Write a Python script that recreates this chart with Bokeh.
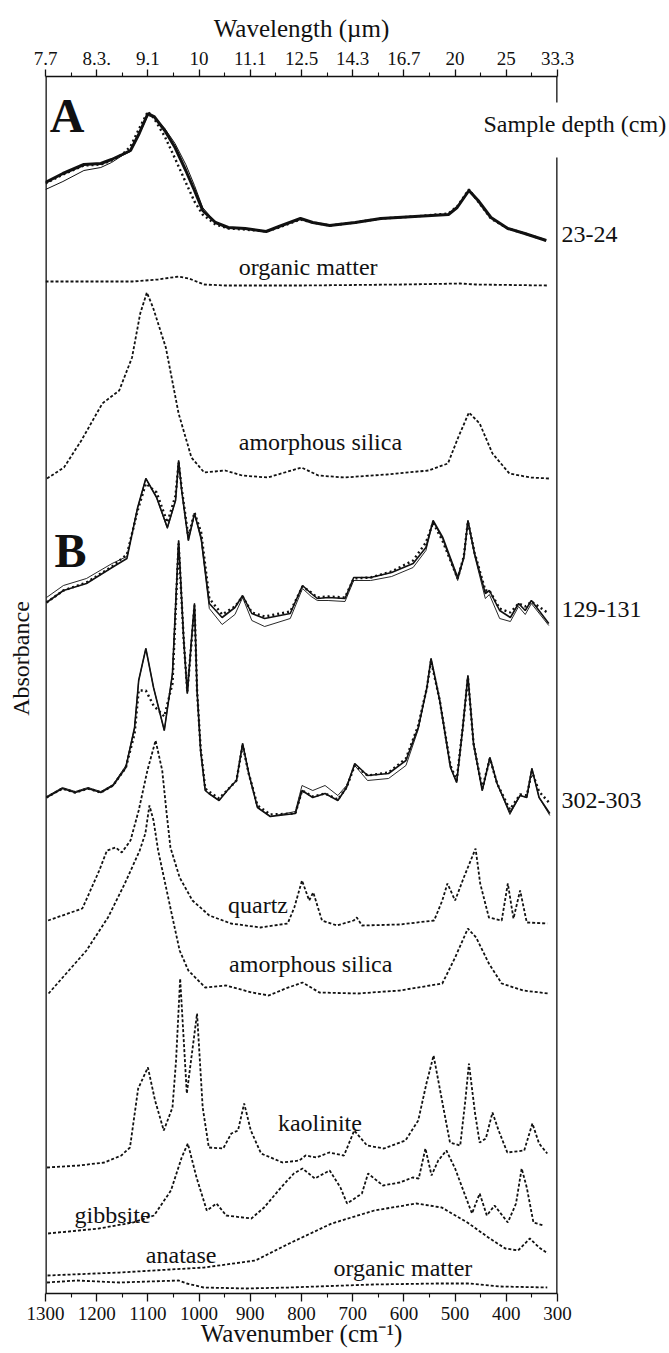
import math
from bokeh.plotting import figure
from bokeh.models import Range1d, LinearAxis, FixedTicker, CustomJSTickFormatter, Label
from bokeh.embed import file_html
from bokeh.resources import INLINE

FONT = "Liberation Serif"
INK = "#111111"

# ---------------- axes ----------------
wn_ticks = [1300, 1200, 1100, 1000, 900, 800, 700, 600, 500, 400, 300]
wn_minor = [1250, 1150, 1050, 950, 850, 750, 650, 550, 450, 350]
wl_labels = ["7.7", "8.3.", "9.1", "10", "11.1", "12.5", "14.3", "16.7", "20", "25", "33.3"]

# right-hand captions ("Sample" | "depth (cm)" straddles the frame) and depth labels
depth_labels = ["depth (cm)", "23-24", "129-131", "302-303"]
depth_pos = [11.70, 10.60, 6.85, 4.94]

# ---------------- data (wavenumber cm-1, stacked absorbance a.u.) ----------------
# A: sample 23-24 cm, measured (bold), replicate (thin), fit (dotted)
a_meas_wn = [1300, 1266, 1225, 1192, 1171, 1150, 1134, 1117, 1100, 1088, 1067, 1047, 1026, 1009, 993, 968, 943, 910, 869, 844, 802, 778, 745, 695, 645, 579, 513, 496, 473, 455, 430, 397, 364, 322]
a_meas_ab = [11.11, 11.20, 11.29, 11.30, 11.34, 11.39, 11.43, 11.60, 11.80, 11.77, 11.63, 11.46, 11.23, 11.03, 10.83, 10.71, 10.66, 10.65, 10.62, 10.67, 10.75, 10.71, 10.68, 10.71, 10.75, 10.77, 10.79, 10.86, 11.03, 10.93, 10.76, 10.65, 10.60, 10.53]
a_thin_wn = [1300, 1266, 1225, 1192, 1171, 1150, 1134, 1117, 1100, 1088, 1067, 1047, 1026, 1009, 993, 968, 943, 910, 869, 844, 802, 778, 745, 695, 645, 579, 513, 496, 473, 455, 430, 397, 364, 322]
a_thin_ab = [11.04, 11.12, 11.23, 11.26, 11.31, 11.38, 11.42, 11.59, 11.78, 11.76, 11.65, 11.50, 11.29, 11.08, 10.86, 10.71, 10.66, 10.65, 10.62, 10.67, 10.75, 10.71, 10.68, 10.71, 10.75, 10.77, 10.79, 10.86, 11.03, 10.93, 10.76, 10.65, 10.60, 10.53]
a_fit_wn = [1300, 1266, 1225, 1192, 1171, 1150, 1134, 1117, 1100, 1088, 1067, 1047, 1026, 1009, 993, 968, 943, 910, 869, 844, 802, 778, 745, 695, 645, 579, 513, 496, 473, 455, 430, 397, 364, 322]
a_fit_ab = [11.10, 11.19, 11.28, 11.29, 11.33, 11.39, 11.47, 11.65, 11.82, 11.75, 11.57, 11.35, 11.11, 10.92, 10.79, 10.69, 10.65, 10.64, 10.62, 10.66, 10.74, 10.71, 10.68, 10.71, 10.75, 10.77, 10.80, 10.87, 11.04, 10.92, 10.75, 10.65, 10.60, 10.53]

om1_wn = [1300, 1200, 1130, 1080, 1040, 1020, 990, 950, 800, 600, 490, 460, 320]
om1_ab = [10.12, 10.12, 10.12, 10.14, 10.17, 10.15, 10.09, 10.08, 10.08, 10.09, 10.10, 10.09, 10.08]

as1_wn = [1297, 1264, 1230, 1189, 1156, 1131, 1115, 1102, 1090, 1065, 1040, 1015, 990, 949, 916, 866, 833, 800, 767, 717, 634, 552, 514, 494, 473, 452, 427, 394, 353, 316]
as1_ab = [8.15, 8.26, 8.53, 8.90, 9.03, 9.36, 9.80, 10.01, 9.86, 9.46, 8.80, 8.36, 8.21, 8.23, 8.18, 8.16, 8.21, 8.26, 8.18, 8.16, 8.19, 8.23, 8.30, 8.56, 8.81, 8.70, 8.40, 8.20, 8.16, 8.15]

# B: sample 129-131 cm
b1_wn = [1298, 1265, 1220, 1170, 1141, 1120, 1104, 1083, 1062, 1046, 1040, 1034, 1021, 1009, 996, 980, 955, 930, 915, 897, 872, 822, 798, 781, 769, 748, 715, 698, 665, 624, 582, 557, 543, 524, 495, 483, 475, 462, 441, 433, 413, 392, 376, 363, 351, 317]
b1_meas = [6.91, 7.03, 7.10, 7.26, 7.35, 7.86, 8.15, 7.96, 7.66, 7.93, 8.33, 8.03, 7.53, 7.80, 7.56, 6.90, 6.76, 6.86, 6.98, 6.80, 6.75, 6.80, 7.08, 7.00, 6.95, 6.96, 6.95, 7.16, 7.16, 7.21, 7.30, 7.46, 7.73, 7.56, 7.16, 7.36, 7.73, 7.40, 7.00, 7.03, 6.83, 6.76, 6.90, 6.83, 6.93, 6.70]
b1_thin = [6.96, 7.08, 7.15, 7.30, 7.37, 7.86, 8.15, 7.96, 7.65, 7.93, 8.33, 8.03, 7.53, 7.80, 7.53, 6.85, 6.69, 6.79, 6.96, 6.73, 6.67, 6.75, 7.05, 6.97, 6.93, 6.93, 6.92, 7.13, 7.13, 7.17, 7.26, 7.43, 7.72, 7.54, 7.13, 7.35, 7.73, 7.38, 6.95, 6.99, 6.75, 6.72, 6.87, 6.79, 6.90, 6.68]
b1_fit = [6.91, 7.03, 7.11, 7.27, 7.39, 7.83, 8.10, 8.01, 7.71, 7.98, 8.31, 8.05, 7.57, 7.81, 7.61, 6.95, 6.79, 6.87, 6.97, 6.81, 6.77, 6.82, 7.07, 7.01, 6.96, 6.97, 6.96, 7.15, 7.16, 7.22, 7.33, 7.51, 7.71, 7.52, 7.15, 7.37, 7.72, 7.41, 7.03, 7.03, 6.85, 6.81, 6.90, 6.87, 6.92, 6.80]

# B: sample 302-303 cm
b2_wn = [1298, 1267, 1242, 1217, 1192, 1168, 1143, 1126, 1118, 1104, 1089, 1068, 1052, 1040, 1030, 1023, 1015, 1009, 1004, 997, 988, 981, 961, 940, 927, 915, 903, 886, 861, 812, 799, 778, 754, 729, 712, 696, 671, 630, 596, 572, 555, 547, 530, 509, 497, 485, 475, 464, 447, 432, 418, 393, 373, 360, 350, 336, 315]
b2_meas = [4.96, 5.05, 5.01, 5.05, 5.01, 5.08, 5.26, 5.66, 6.13, 6.45, 6.06, 5.63, 6.20, 7.53, 6.53, 6.00, 6.53, 6.90, 6.03, 5.43, 5.03, 5.00, 4.93, 5.06, 5.13, 5.50, 5.20, 4.86, 4.77, 4.80, 5.03, 4.96, 5.00, 4.93, 5.06, 5.30, 5.18, 5.20, 5.33, 5.66, 6.06, 6.35, 5.93, 5.26, 5.11, 5.66, 6.18, 5.50, 5.03, 5.36, 5.10, 4.81, 4.98, 4.96, 5.25, 4.96, 4.80]
b2_thin = [4.97, 5.06, 5.02, 5.06, 5.02, 5.09, 5.28, 5.66, 6.13, 6.45, 6.06, 5.63, 6.20, 7.53, 6.53, 6.00, 6.53, 6.90, 6.03, 5.43, 5.03, 5.00, 4.93, 5.06, 5.13, 5.50, 5.20, 4.86, 4.77, 4.82, 5.08, 5.03, 5.08, 4.98, 5.08, 5.28, 5.13, 5.15, 5.28, 5.64, 6.06, 6.35, 5.93, 5.26, 5.11, 5.66, 6.18, 5.50, 5.03, 5.36, 5.10, 4.79, 4.98, 4.96, 5.25, 4.96, 4.78]
b2_fit = [4.96, 5.05, 5.01, 5.05, 5.01, 5.08, 5.26, 5.60, 6.03, 6.03, 5.88, 5.77, 6.10, 7.50, 6.53, 6.02, 6.50, 6.88, 6.03, 5.45, 5.05, 5.02, 4.95, 5.06, 5.13, 5.48, 5.20, 4.88, 4.79, 4.80, 5.03, 4.97, 5.00, 4.94, 5.06, 5.28, 5.18, 5.21, 5.35, 5.68, 6.06, 6.33, 5.93, 5.28, 5.13, 5.66, 6.16, 5.50, 5.05, 5.35, 5.10, 4.84, 4.99, 4.98, 5.22, 5.02, 4.90]

qz_wn = [1295, 1228, 1195, 1180, 1163, 1151, 1134, 1118, 1101, 1085, 1072, 1064, 1056, 1038, 1013, 980, 938, 880, 827, 814, 799, 785, 777, 760, 731, 698, 692, 682, 608, 541, 525, 515, 500, 483, 460, 451, 434, 409, 397, 386, 373, 360, 320]
qz_ab = [3.73, 3.85, 4.23, 4.43, 4.46, 4.41, 4.53, 4.83, 5.23, 5.53, 5.23, 4.83, 4.46, 4.16, 3.93, 3.78, 3.70, 3.66, 3.70, 3.86, 4.13, 3.93, 4.01, 3.73, 3.68, 3.73, 3.76, 3.68, 3.69, 3.73, 3.93, 4.10, 3.93, 4.16, 4.45, 4.10, 3.76, 3.73, 4.10, 3.75, 4.03, 3.71, 3.70]

as2_wn = [1294, 1220, 1178, 1145, 1116, 1105, 1097, 1089, 1080, 1052, 1038, 1021, 988, 947, 897, 864, 831, 798, 765, 690, 608, 525, 500, 475, 459, 434, 409, 367, 318]
as2_ab = [3.00, 3.43, 3.76, 4.10, 4.43, 4.60, 4.88, 4.73, 4.43, 3.76, 3.43, 3.23, 3.06, 3.08, 3.01, 2.98, 3.05, 3.11, 3.01, 3.00, 3.03, 3.10, 3.36, 3.65, 3.56, 3.30, 3.10, 3.03, 3.00]

ka_wn = [1297, 1235, 1185, 1152, 1135, 1119, 1100, 1086, 1069, 1052, 1045, 1037, 1024, 1004, 993, 981, 953, 937, 924, 912, 899, 879, 837, 804, 792, 771, 746, 717, 697, 672, 639, 597, 572, 556, 542, 523, 510, 490, 480, 473, 461, 452, 440, 427, 415, 398, 365, 349, 336, 320]
ka_ab = [1.26, 1.28, 1.31, 1.38, 1.46, 2.05, 2.26, 1.93, 1.63, 1.86, 2.33, 3.15, 2.00, 2.80, 1.86, 1.46, 1.45, 1.60, 1.63, 1.90, 1.63, 1.40, 1.31, 1.33, 1.38, 1.36, 1.41, 1.38, 1.63, 1.48, 1.45, 1.53, 1.73, 2.10, 2.38, 1.86, 1.51, 1.48, 1.93, 2.30, 1.80, 1.51, 1.55, 1.81, 1.63, 1.41, 1.43, 1.70, 1.50, 1.40]

gb_wn = [1295, 1196, 1129, 1088, 1055, 1034, 1022, 1005, 985, 966, 947, 898, 873, 840, 815, 798, 774, 745, 724, 711, 682, 670, 658, 641, 608, 583, 571, 558, 546, 533, 517, 500, 484, 467, 452, 438, 423, 397, 381, 370, 360, 347, 327]
gb_ab = [0.60, 0.65, 0.71, 0.78, 1.03, 1.36, 1.50, 1.16, 0.83, 0.90, 0.78, 0.75, 0.86, 1.06, 1.20, 1.25, 1.15, 1.23, 1.06, 0.90, 1.00, 1.20, 1.15, 1.08, 1.11, 1.16, 1.15, 1.45, 1.18, 1.33, 1.43, 1.25, 1.03, 0.80, 1.00, 0.78, 0.88, 0.71, 0.90, 1.25, 1.06, 0.71, 0.68]

an_wn = [1296, 1155, 990, 890, 824, 741, 658, 576, 526, 476, 435, 402, 377, 354, 336, 319]
an_ab = [0.18, 0.21, 0.26, 0.33, 0.50, 0.70, 0.83, 0.90, 0.86, 0.71, 0.56, 0.45, 0.43, 0.55, 0.46, 0.40]

om2_wn = [1297, 1239, 1156, 1040, 1024, 991, 908, 825, 660, 536, 470, 412, 320]
om2_ab = [0.11, 0.13, 0.11, 0.13, 0.10, 0.06, 0.05, 0.06, 0.09, 0.10, 0.10, 0.07, 0.06]

# ---------------- figure ----------------
Y_TOP = 12.17
p = figure(width=669, height=1353, x_range=Range1d(1300, 300), y_range=Range1d(0, Y_TOP),
           output_backend="svg", toolbar_location=None,
           min_border_left=45, min_border_right=110, min_border_top=76, min_border_bottom=60,
           background_fill_color="white", border_fill_color="white")
p.outline_line_color = None
p.grid.visible = False


def style_axis(ax, tick_out):
    ax.ticker = FixedTicker(ticks=wn_ticks, minor_ticks=wn_minor)
    ax.axis_line_color = INK
    ax.axis_line_width = 1.3
    ax.major_tick_line_color = INK
    ax.major_tick_line_width = 1.3
    ax.minor_tick_line_color = INK
    ax.minor_tick_line_width = 1.1
    ax.major_tick_in = 0
    ax.major_tick_out = tick_out
    ax.minor_tick_in = 0
    ax.minor_tick_out = 4
    ax.major_label_text_font = FONT
    ax.major_label_text_font_size = "19px"
    ax.major_label_text_color = INK
    ax.axis_label_text_font = FONT
    ax.axis_label_text_font_style = "normal"
    ax.axis_label_text_font_size = "25px"
    ax.axis_label_text_color = INK


bottom = p.xaxis[0]
style_axis(bottom, 8)
bottom.major_label_standoff = 5
bottom.axis_label = "Wavenumber (cm\u207b\u00b9)"
bottom.axis_label_standoff = -3

top = LinearAxis(formatter=CustomJSTickFormatter(
    args=dict(t=wn_ticks, l=wl_labels),
    code="const i = t.indexOf(tick); return i < 0 ? '' : l[i];"))
style_axis(top, 7)
top.major_label_standoff = 5
top.axis_label = "Wavelength (\u00b5m)"
top.axis_label_standoff = 7
p.add_layout(top, "above")

# left axis: only the rotated 'Absorbance' caption
left = p.yaxis[0]
left.ticker = FixedTicker(ticks=[6.35], minor_ticks=[])
left.formatter = CustomJSTickFormatter(code="return 'Absorbance';")
left.major_label_orientation = "parallel"
left.major_label_text_font = FONT
left.major_label_text_font_size = "24px"
left.major_label_text_color = INK
left.major_label_standoff = 12
left.major_tick_out = 0
left.major_tick_in = 0
left.minor_tick_out = 0
left.axis_line_color = None
left.major_tick_line_color = None

# right axis: sample depth labels
right = LinearAxis(ticker=FixedTicker(ticks=depth_pos, minor_ticks=[]),
                   formatter=CustomJSTickFormatter(
                       args=dict(t=depth_pos, l=depth_labels),
                       code="const i = t.indexOf(tick); return i < 0 ? '' : l[i];"))
right.major_label_text_font = FONT
right.major_label_text_font_size = "24px"
right.major_label_text_color = INK
right.major_label_standoff = 4
right.major_tick_out = 0
right.major_tick_in = 0
right.minor_tick_out = 0
right.axis_line_color = None
right.major_tick_line_color = None
p.add_layout(right, "right")

# frame sides (right side interrupted by the 'Sample depth' heading)
x_lo, x_hi = p.x_range.start, p.x_range.end
p.segment(x0=[x_lo], y0=[0], x1=[x_lo], y1=[Y_TOP], line_color=INK, line_width=2.6)
p.segment(x0=[x_hi, x_hi], y0=[Y_TOP, 11.36], x1=[x_hi, x_hi], y1=[11.91, 0],
          line_color=INK, line_width=2.6)

DOT = "3 2"
FIT = "2 3"

# A
p.line(a_thin_wn, a_thin_ab, line_color=INK, line_width=1.0)
p.line(a_meas_wn, a_meas_ab, line_color=INK, line_width=3.0)
p.line(a_fit_wn, a_fit_ab, line_color=INK, line_width=2.4, line_dash=FIT)
p.line(om1_wn, om1_ab, line_color=INK, line_width=1.8, line_dash=DOT)
p.line(as1_wn, as1_ab, line_color=INK, line_width=1.8, line_dash=DOT)

# B
p.line(b1_wn, b1_thin, line_color=INK, line_width=0.9)
p.line(b1_wn, b1_meas, line_color=INK, line_width=1.6)
p.line(b1_wn, b1_fit, line_color=INK, line_width=2.4, line_dash=FIT)
p.line(b2_wn, b2_thin, line_color=INK, line_width=0.9)
p.line(b2_wn, b2_meas, line_color=INK, line_width=1.6)
p.line(b2_wn, b2_fit, line_color=INK, line_width=2.4, line_dash=FIT)

for wn, ab in [(qz_wn, qz_ab), (as2_wn, as2_ab), (ka_wn, ka_ab), (gb_wn, gb_ab),
               (an_wn, an_ab), (om2_wn, om2_ab)]:
    p.line(wn, ab, line_color=INK, line_width=1.8, line_dash=DOT)

# ---------------- texts inside the frame ----------------
texts = [
    ("A", 1258, 11.78, "48px", "bold", "center"),
    ("Sample", 304, 11.70, "24px", "normal", "right"),
    ("organic matter", 787, 10.27, "24px", "normal", "center"),
    ("amorphous silica", 763, 8.52, "24px", "normal", "center"),
    ("B", 1251, 7.43, "48px", "bold", "center"),
    ("quartz", 885, 3.89, "24px", "normal", "center"),
    ("amorphous silica", 782, 3.30, "24px", "normal", "center"),
    ("kaolinite", 764, 1.71, "24px", "normal", "center"),
    ("gibbsite", 1169, 0.79, "24px", "normal", "center"),
    ("anatase", 1035, 0.39, "24px", "normal", "center"),
    ("organic matter", 602, 0.26, "24px", "normal", "center"),
]
for txt, x, y, size, style, align in texts:
    p.add_layout(Label(x=x, y=y, text=txt, text_font=FONT, text_font_size=size,
                       text_font_style=style, text_align=align, text_baseline="middle",
                       text_color=INK))

open("out.html", "w").write(file_html(p, INLINE))
